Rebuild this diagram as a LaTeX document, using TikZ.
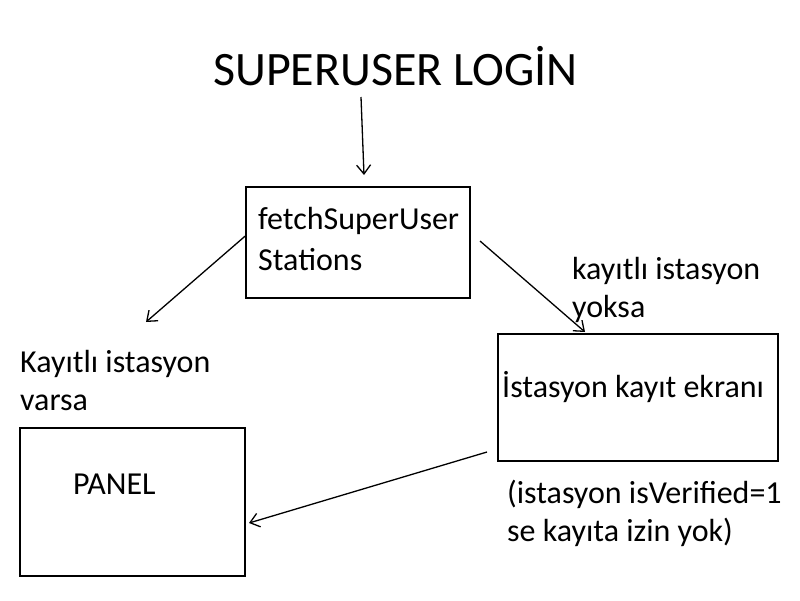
\documentclass[tikz,border=0pt]{standalone}
\usepackage{fontspec}
\setmainfont{Carlito}
\usetikzlibrary{arrows.meta}
\begin{document}
\begin{tikzpicture}[x=1pt,y=-1pt,
  box/.style={draw,line width=1.5pt,minimum width=#1,inner sep=0pt},
  txt/.style={anchor=base west,inner sep=0pt,align=left,font=\fontsize{32}{39}\selectfont},
  arr/.style={line width=1.3pt,-{Straight Barb[length=9pt,width=14pt,line width=1.3pt]}}]
\useasboundingbox (0,0) rectangle (800,600);
\node[anchor=base west,inner sep=0pt,font=\fontsize{48}{56}\selectfont] (title) at (213,85) {SUPERUSER LOGİN};
\node[box=224pt,minimum height=111pt] (fetch) at (358,242.5) {};
\node[box=280pt,minimum height=127pt] (ist) at (638,397.5) {};
\node[box=225pt,minimum height=148pt] (panel) at (132.5,502) {};
\node[txt] (fetchtxt) at (258,229) {fetchSuperUser};
\node[txt] (fetchtxt2) at (258,270) {Stations};
\node[txt] (isttxt) at (502,397) {İstasyon kayıt ekranı};
\node[txt] (paneltxt) at (73,494) {PANEL};
\node[txt] (yok1) at (572,279) {kayıtlı istasyon};
\node[txt] (yok2) at (572,317) {yoksa};
\node[txt] (var1) at (20,372) {Kayıtlı istasyon};
\node[txt] (var2) at (20,410) {varsa};
\node[txt] (ver1) at (507,503) {(istasyon isVerified=1};
\node[txt] (ver2) at (507,541) {se kayıta izin yok)};
\coordinate (t1) at (361,97);
\coordinate (t2) at (364,175);
\coordinate (l2) at (146,322);
\coordinate (r1) at (480,241);
\coordinate (r2) at (585,332);
\coordinate (b1) at (487,452);
\coordinate (b2) at (249,523);
\draw[arr] (t1) -- (t2);
\draw[arr] (fetch.west |- 0,236) -- (l2);
\draw[arr] (r1) -- (r2);
\draw[arr] (b1) -- (b2);
\end{tikzpicture}
\end{document}
